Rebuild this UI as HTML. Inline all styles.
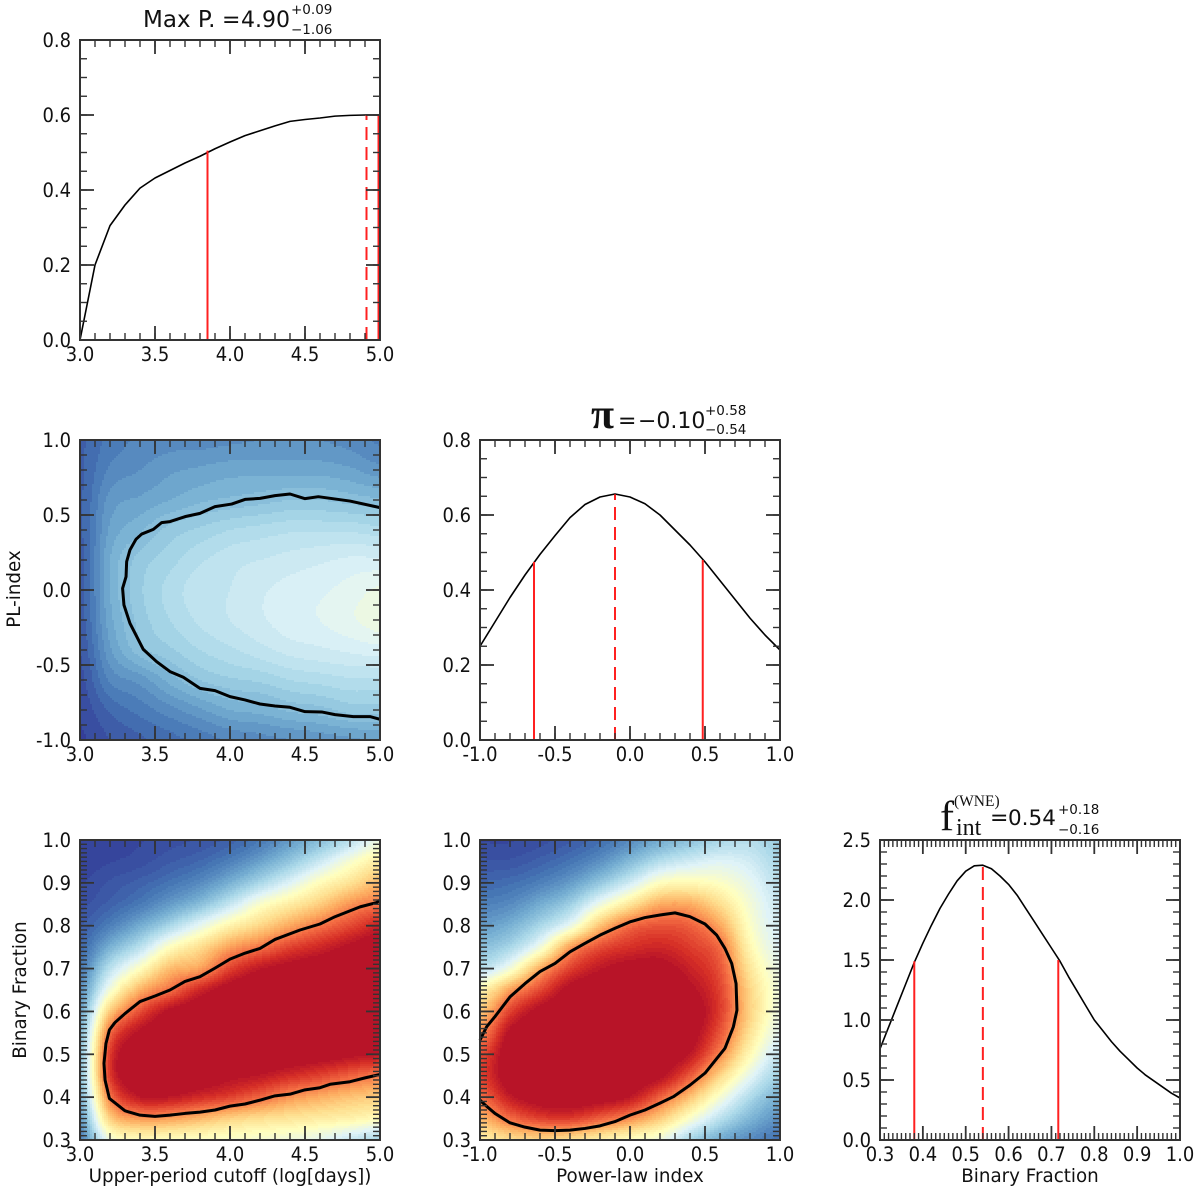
<!DOCTYPE html>
<html lang="en">
<head>
<meta charset="utf-8">
<title>Corner plot</title>
<style>
html,body{margin:0;padding:0;background:#fff;width:1200px;height:1200px;overflow:hidden}
svg{display:block}
.t{font-family:"DejaVu Sans","Liberation Sans",sans-serif;fill:#111}
.s{font-family:"Liberation Serif",serif;fill:#111}
</style>
</head>
<body>
<svg id="chart" xmlns="http://www.w3.org/2000/svg" width="1200" height="1200" viewBox="0 0 1200 1200">
  <rect x="0" y="0" width="1200" height="1200" fill="#fff"/>
  <g id="plots"></g>
  <g>
    <text class="t" x="143" y="27" font-size="23">Max P.</text>
    <text class="t" x="222" y="27" font-size="22">=</text>
    <text class="t" x="241" y="27" font-size="22">4.90</text>
    <text class="t" x="291" y="14" font-size="13.5">+0.09</text>
    <text class="t" x="291" y="34" font-size="13.5">−1.06</text>
  </g>
  <g>
    <text class="s" x="591" y="428" font-size="42" font-weight="bold">π</text>
    <text class="t" x="618" y="428" font-size="22">=</text>
    <text class="t" x="638" y="428" font-size="22">−0.10</text>
    <text class="t" x="705" y="415" font-size="13.5">+0.58</text>
    <text class="t" x="705" y="434" font-size="13.5">−0.54</text>
  </g>
  <g>
    <text class="s" x="940" y="830" font-size="42">f</text>
    <text class="s" x="954" y="806" font-size="15.5">(WNE)</text>
    <text class="s" x="956" y="835" font-size="24">int</text>
    <text class="t" x="990" y="825" font-size="22">=</text>
    <text class="t" x="1008" y="825" font-size="21.5">0.54</text>
    <text class="t" x="1058" y="814" font-size="13.5">+0.18</text>
    <text class="t" x="1058" y="834" font-size="13.5">−0.16</text>
  </g>
  <text class="t" transform="translate(20,589) rotate(-90)" text-anchor="middle" font-size="18.3">PL-index</text>
  <text class="t" transform="translate(26,990) rotate(-90)" text-anchor="middle" font-size="18.3">Binary Fraction</text>
  <text class="t" x="230" y="1182" text-anchor="middle" font-size="18.3">Upper-period cutoff (log[days])</text>
  <text class="t" x="630" y="1182" text-anchor="middle" font-size="18.3">Power-law index</text>
  <text class="t" x="1030" y="1182" text-anchor="middle" font-size="18.3">Binary Fraction</text>
</svg>
<script>
// ---- 1D posterior curves ----
const cutoffX = [3.0,3.1,3.2,3.3,3.4,3.5,3.6,3.7,3.8,3.9,4.0,4.1,4.2,4.3,4.4,4.5,4.6,4.7,4.8,4.9,5.0];
const cutoffY = [0,0.2,0.305,0.36,0.405,0.432,0.452,0.472,0.49,0.51,0.528,0.545,0.558,0.571,0.583,0.588,0.592,0.597,0.599,0.6,0.6];
const indexX = [-1,-0.9,-0.8,-0.7,-0.6,-0.5,-0.4,-0.3,-0.2,-0.1,0,0.1,0.2,0.3,0.4,0.5,0.6,0.7,0.8,0.9,1];
const indexY = [0.25,0.315,0.38,0.44,0.495,0.545,0.593,0.628,0.648,0.656,0.648,0.63,0.6,0.56,0.52,0.475,0.425,0.375,0.325,0.28,0.24];
const fractionX = [0.30,0.32,0.34,0.36,0.38,0.40,0.42,0.44,0.46,0.48,0.50,0.52,0.54,0.56,0.58,0.60,0.62,0.64,0.66,0.68,0.70,0.72,0.74,0.76,0.78,0.80,0.82,0.84,0.86,0.88,0.90,0.92,0.94,0.96,0.98,1.00];
const fractionY = [0.76,0.94,1.12,1.30,1.48,1.64,1.79,1.93,2.05,2.16,2.24,2.285,2.29,2.26,2.20,2.13,2.04,1.93,1.82,1.71,1.60,1.49,1.36,1.24,1.12,1.00,0.91,0.82,0.74,0.67,0.60,0.54,0.49,0.44,0.39,0.35];

// ---- credible interval markers: [x, height] ----
const cutoffLow = [3.85,0.505];
const cutoffMid = [4.91,0.6];
const cutoffHigh = [4.99,0.6];
const indexLow = [-0.64,0.475];
const indexMid = [-0.1,0.655];
const indexHigh = [0.485,0.48];
const fractionLow = [0.38,1.49];
const fractionMid = [0.54,2.29];
const fractionHigh = [0.716,1.5];

// ---- tick labels ----
const cutoffTicks = [3.0,3.5,4.0,4.5,5.0];
const cutoffTickLabels = ["3.0","3.5","4.0","4.5","5.0"];
const indexTicks = [-1,-0.5,0,0.5,1];
const indexTickLabels = ["-1.0","-0.5","0.0","0.5","1.0"];
const fractionTicks = [0.3,0.4,0.5,0.6,0.7,0.8,0.9,1.0];
const fractionTickLabels = ["0.3","0.4","0.5","0.6","0.7","0.8","0.9","1.0"];
const densityTicks = [0,0.2,0.4,0.6,0.8];
const densityTickLabels = ["0.0","0.2","0.4","0.6","0.8"];
const fractionDensityTicks = [0,0.5,1,1.5,2,2.5];
const fractionDensityTickLabels = ["0.0","0.5","1.0","1.5","2.0","2.5"];

// ---- heatmap grids: one inner array per x column, values run from top y to bottom y ----
const cutoffColumns = [3.0,3.2,3.4,3.6,3.8,4.0,4.2,4.4,4.6,4.8,5.0];
const indexColumns = [-1,-0.8,-0.6,-0.4,-0.2,0,0.2,0.4,0.6,0.8,1];
const fractionRows = [1,0.95,0.9,0.85,0.8,0.75,0.7,0.65,0.6,0.55,0.5,0.45,0.4,0.35,0.3];
const indexRows = [1,0.8,0.6,0.4,0.2,0,-0.2,-0.4,-0.6,-0.8,-1];

const heatCutoffIndex = [
 [.07,.07,.07,.07,.06,.06,.06,.05,.04,.03,.02],
 [.11,.13,.16,.18,.20,.20,.19,.17,.13,.08,.05],
 [.13,.15,.18,.22,.26,.27,.26,.24,.16,.11,.07],
 [.14,.17,.20,.26,.29,.31,.30,.27,.21,.14,.09],
 [.14,.18,.22,.28,.32,.34,.33,.30,.25,.17,.11],
 [.145,.19,.23,.30,.34,.35,.35,.32,.27,.20,.13],
 [.15,.19,.24,.31,.35,.37,.37,.34,.28,.21,.14],
 [.15,.19,.25,.32,.36,.385,.39,.36,.30,.23,.15],
 [.15,.19,.25,.32,.37,.395,.40,.37,.31,.24,.16],
 [.14,.18,.24,.32,.38,.41,.42,.38,.32,.26,.17],
 [.12,.16,.23,.31,.38,.43,.44,.39,.32,.26,.18]
];
const heatCutoffFraction = [
 [.02,.02,.03,.04,.06,.08,.11,.15,.19,.23,.25,.25,.22,.17,.12],
 [.02,.03,.05,.07,.12,.21,.33,.46,.64,.80,.88,.88,.78,.63,.45],
 [.03,.04,.07,.11,.20,.33,.50,.69,.85,.97,1,1,.95,.73,.51],
 [.04,.06,.10,.17,.30,.50,.67,.80,.97,1,1,1,.95,.72,.50],
 [.05,.08,.14,.24,.42,.60,.72,.92,1,1,1,1,.91,.68,.49],
 [.07,.12,.21,.35,.54,.72,.87,.99,1,1,1,.97,.87,.63,.48],
 [.11,.18,.30,.48,.62,.79,.95,1,1,1,1,.95,.81,.60,.47],
 [.17,.26,.40,.56,.71,.87,.98,1,1,1,1,.91,.74,.58,.45],
 [.24,.36,.51,.64,.79,.92,1,1,1,1,.99,.87,.70,.56,.42],
 [.33,.47,.59,.74,.86,.97,1,1,1,1,.97,.82,.66,.54,.36],
 [.44,.56,.68,.79,.93,1,1,1,1,1,.95,.78,.64,.51,.30]
];
const heatIndexFraction = [
 [.03,.05,.08,.12,.17,.24,.33,.53,.65,.75,.85,.87,.80,.68,.55],
 [.03,.05,.09,.14,.21,.30,.46,.72,.87,.97,1,1,.94,.80,.60],
 [.04,.07,.12,.20,.30,.45,.70,.86,.98,1,1,1,.99,.87,.62],
 [.06,.10,.17,.28,.43,.72,.87,.98,1,1,1,1,1,.88,.60],
 [.09,.15,.26,.44,.66,.85,.95,1,1,1,1,1,.99,.82,.55],
 [.14,.23,.37,.58,.80,.90,.98,1,1,1,1,1,.95,.75,.50],
 [.20,.32,.50,.70,.84,.92,.98,1,1,1,1,.97,.82,.64,.45],
 [.25,.37,.52,.70,.82,.88,.93,.97,1,.99,.95,.83,.66,.48,.30],
 [.30,.40,.49,.60,.71,.80,.84,.87,.88,.84,.76,.62,.47,.33,.20],
 [.32,.37,.42,.46,.49,.53,.58,.62,.63,.59,.52,.42,.31,.22,.14],
 [.27,.30,.33,.36,.38,.40,.43,.45,.44,.41,.35,.28,.21,.15,.10]
];

// ---- 68% contours ----
const contourCIX = [5,4.8,4.589,4.5,4.4,4.3,4.2,4.1,4.011,3.9,3.8,3.7,3.6,3.544,3.489,3.411,3.373,3.333,3.311,3.307,3.284,3.293,3.333,3.422,3.511,3.6,3.689,3.8,3.9,4,4.1,4.2,4.3,4.4,4.5,4.611,4.7,4.822,4.933,5];
const contourCIY = [.549,.593,.622,.609,.64,.629,.611,.604,.573,.556,.511,.489,.456,.449,.404,.373,.338,.267,.189,.089,.011,-.1,-.222,-.396,-.478,-.544,-.582,-.656,-.671,-.711,-.733,-.76,-.773,-.782,-.811,-.813,-.831,-.844,-.844,-.862];
const contourCFX = [5,4.978,4.867,4.7,4.6,4.467,4.3,4.2,4.1,4,3.9,3.8,3.7,3.6,3.5,3.4,3.3,3.233,3.196,3.173,3.16,3.167,3.196,3.3,3.4,3.5,3.6,3.7,3.8,3.9,4,4.1,4.2,4.3,4.4,4.5,4.6,4.667,4.8,4.9,5];
const contourCFY = [.86,.854,.844,.821,.804,.79,.768,.747,.736,.722,.701,.681,.67,.65,.636,.623,.595,.574,.557,.525,.479,.44,.397,.368,.358,.355,.358,.362,.365,.37,.379,.384,.393,.403,.407,.417,.422,.43,.436,.445,.453];
const contourIFX = [-1,-.956,-.9,-.8,-.7,-.6,-.5,-.4,-.3,-.2,-.1,0,.1,.2,.3,.4,.5,.578,.633,.678,.707,.713,.689,.633,.5,.4,.289,.2,.1,0,-.1,-.2,-.3,-.4,-.5,-.6,-.7,-.8,-.9,-.967,-1];
const contourIFY = [.533,.564,.588,.634,.665,.693,.712,.739,.759,.778,.794,.809,.819,.825,.83,.821,.804,.778,.747,.712,.665,.603,.564,.514,.456,.428,.401,.386,.37,.358,.343,.333,.327,.323,.322,.323,.33,.34,.362,.382,.393];

const colorStops = [[0,49,54,149],[.1,69,117,180],[.2,116,173,209],[.3,171,217,233],[.4,224,243,248],[.5,255,255,191],[.6,254,224,144],[.7,253,174,97],[.8,244,109,67],[.9,215,48,39],[.96,184,20,40],[1,184,20,40]];

const SVGNS = 'http://www.w3.org/2000/svg';
const plots = document.getElementById('plots');

function make(parent, tag, props) {
  const node = document.createElementNS(SVGNS, tag);
  for (const k in props) node.setAttribute(k, props[k]);
  parent.appendChild(node);
  return node;
}
function linearScale(d0, d1, r0, r1) {
  return v => r0 + (v - d0) / (d1 - d0) * (r1 - r0);
}
function colorOf(v) {
  for (let i = 1; i < colorStops.length; i++) {
    if (v <= colorStops[i][0]) {
      const a = colorStops[i - 1], b = colorStops[i], t = (v - a[0]) / (b[0] - a[0] || 1);
      return 'rgb(' + [1, 2, 3].map(c => Math.round(a[c] + (b[c] - a[c]) * t)).join(',') + ')';
    }
  }
  return 'rgb(184,20,40)';
}
function catmull(p0, p1, p2, p3, t) {
  return 0.5 * (2 * p1 + (p2 - p0) * t + (2 * p0 - 5 * p1 + 4 * p2 - p3) * t * t + (3 * p1 - p0 - 3 * p2 + p3) * t * t * t);
}
function locate(list, v) {
  let i = 0;
  const asc = list[1] > list[0];
  while (i < list.length - 2 && (asc ? list[i + 1] <= v : list[i + 1] >= v)) i++;
  return [i, (v - list[i]) / (list[i + 1] - list[i])];
}
function sampleGrid(grid, cols, rows, x, y) {
  const [ci, ct] = locate(cols, x);
  const [ri, rt] = locate(rows, y);
  const nc = cols.length, nr = rows.length;
  const vals = [];
  for (let c = ci - 1; c <= ci + 2; c++) {
    const col = grid[Math.max(0, Math.min(nc - 1, c))];
    const g = r => col[Math.max(0, Math.min(nr - 1, r))];
    vals.push(catmull(g(ri - 1), g(ri), g(ri + 1), g(ri + 2), rt));
  }
  return Math.max(0, Math.min(1, catmull(vals[0], vals[1], vals[2], vals[3], ct)));
}
function drawHeat(group, p, grid, cols, rows, levels) {
  const step = 2;
  for (let py = p.top; py < p.top + 300; py += step) {
    let runStart = p.left, runLevel = null;
    for (let px = p.left; px <= p.left + 300; px += step) {
      let lev = -1;
      if (px < p.left + 300) {
        const v = sampleGrid(grid, cols, rows, p.invX(px + 1), p.invY(py + 1));
        lev = Math.min(levels - 1, Math.floor(v * levels));
      }
      if (lev !== runLevel) {
        if (runLevel !== null) {
          const cell = make(group, 'rect', {x: runStart, y: py, width: px - runStart, height: step, fill: colorOf((runLevel + 0.5) / levels), 'shape-rendering': 'crispEdges'});
          
          
        }
        runStart = px;
        runLevel = lev;
      }
    }
  }
}
function drawLine(group, p, xs, ys, stroke, width, name) {
  const pts = xs.map((x, i) => p.sx(x).toFixed(2) + ',' + p.sy(ys[i]).toFixed(2)).join(' ');
  const line = make(group, 'polyline', {points: pts, fill: 'none', stroke: stroke, 'stroke-width': width, 'stroke-linejoin': 'round'});
  
  
}
function drawMarker(group, p, marker, dashed, name) {
  const m = make(group, 'line', {x1: p.sx(marker[0]), x2: p.sx(marker[0]), y1: p.sy(0), y2: p.sy(marker[1]), stroke: '#ff2020', 'stroke-width': 2});
  if (dashed) m.setAttribute('stroke-dasharray', '13 7');
  
  
}
function drawAxes(group, p, cfg) {
  const ticks = make(group, 'g', {stroke: '#333', fill: 'none'});
  
  
  const seg = (x1, y1, x2, y2, w) => {
    const t = make(ticks, 'line', {x1: x1, y1: y1, x2: x2, y2: y2, 'stroke-width': w});
    
    
  };
  const L = p.left, T = p.top, R = L + 300, B = T + 300;
  const nx = Math.round((cfg.xDomain[1] - cfg.xDomain[0]) / cfg.xMinor);
  for (let i = 1; i < nx; i++) {
    const x = p.sx(cfg.xDomain[0] + i * cfg.xMinor);
    seg(x, B, x, B - 7, 1.4);
    seg(x, T, x, T + 7, 1.4);
  }
  const ny = Math.round((cfg.yDomain[1] - cfg.yDomain[0]) / cfg.yMinor);
  for (let i = 1; i < ny; i++) {
    const y = p.sy(cfg.yDomain[0] + i * cfg.yMinor);
    seg(L, y, L + 7, y, 1.4);
    seg(R, y, R - 7, y, 1.4);
  }
  cfg.xTicks.forEach((v, i) => {
    const x = p.sx(v);
    seg(x, B, x, B - 14, 1.8);
    seg(x, T, x, T + 14, 1.8);
    const label = make(group, 'text', {transform: 'translate(' + x + ',' + (B + 21) + ') scale(0.92,1)', 'text-anchor': 'middle', 'font-size': 19.5, class: 't'});
    label.textContent = cfg.xLabels[i];
    
    
  });
  cfg.yTicks.forEach((v, i) => {
    const y = p.sy(v);
    seg(L, y, L + 14, y, 1.8);
    seg(R, y, R - 14, y, 1.8);
    const label = make(group, 'text', {transform: 'translate(' + (L - 9) + ',' + (y + 7) + ') scale(0.92,1)', 'text-anchor': 'end', 'font-size': 19.5, class: 't'});
    label.textContent = cfg.yLabels[i];
    
    
  });
  const frame = make(group, 'rect', {x: L, y: T, width: 300, height: 300, fill: 'none', stroke: '#333', 'stroke-width': 2});
  
  
}
function panel(left, top, cfg, name) {
  const g = make(plots, 'g', {});
  
  
  const p = {
    left: left, top: top, g: g,
    sx: linearScale(cfg.xDomain[0], cfg.xDomain[1], left, left + 300),
    sy: linearScale(cfg.yDomain[0], cfg.yDomain[1], top + 300, top),
    invX: linearScale(left, left + 300, cfg.xDomain[0], cfg.xDomain[1]),
    invY: linearScale(top + 300, top, cfg.yDomain[0], cfg.yDomain[1])
  };
  return p;
}

const cfgCutoff1D = {xDomain: [3, 5], yDomain: [0, 0.8], xMinor: 0.1, yMinor: 0.05, xTicks: cutoffTicks, xLabels: cutoffTickLabels, yTicks: densityTicks, yLabels: densityTickLabels};
const cfgIndex1D = {xDomain: [-1, 1], yDomain: [0, 0.8], xMinor: 0.1, yMinor: 0.05, xTicks: indexTicks, xLabels: indexTickLabels, yTicks: densityTicks, yLabels: densityTickLabels};
const cfgFraction1D = {xDomain: [0.3, 1], yDomain: [0, 2.5], xMinor: 0.01, yMinor: 0.1, xTicks: fractionTicks, xLabels: fractionTickLabels, yTicks: fractionDensityTicks, yLabels: fractionDensityTickLabels};
const cfgCutoffIndex = {xDomain: [3, 5], yDomain: [-1, 1], xMinor: 0.1, yMinor: 0.1, xTicks: cutoffTicks, xLabels: cutoffTickLabels, yTicks: indexTicks, yLabels: indexTickLabels};
const cfgCutoffFraction = {xDomain: [3, 5], yDomain: [0.3, 1], xMinor: 0.1, yMinor: 0.01, xTicks: cutoffTicks, xLabels: cutoffTickLabels, yTicks: fractionTicks, yLabels: fractionTickLabels};
const cfgIndexFraction = {xDomain: [-1, 1], yDomain: [0.3, 1], xMinor: 0.1, yMinor: 0.01, xTicks: indexTicks, xLabels: indexTickLabels, yTicks: fractionTicks, yLabels: fractionTickLabels};

// top-left: cutoff marginal
const p1 = panel(80, 40, cfgCutoff1D, 'panel-cutoff-marginal');
drawLine(p1.g, p1, cutoffX, cutoffY, '#000', 1.6, 'cutoff-posterior-curve');
drawMarker(p1.g, p1, cutoffLow, false, 'cutoff-lower-bound');
drawMarker(p1.g, p1, cutoffMid, true, 'cutoff-median');
drawMarker(p1.g, p1, cutoffHigh, false, 'cutoff-upper-bound');
drawAxes(p1.g, p1, cfgCutoff1D);

// middle-left: cutoff vs PL index
const p2 = panel(80, 440, cfgCutoffIndex, 'panel-cutoff-vs-index');
drawHeat(p2.g, p2, heatCutoffIndex, cutoffColumns, indexRows, 40);
drawLine(p2.g, p2, contourCIX, contourCIY, '#000', 3, 'cutoff-index-contour');
drawAxes(p2.g, p2, cfgCutoffIndex);

// middle: index marginal
const p3 = panel(480, 440, cfgIndex1D, 'panel-index-marginal');
drawLine(p3.g, p3, indexX, indexY, '#000', 1.6, 'index-posterior-curve');
drawMarker(p3.g, p3, indexLow, false, 'index-lower-bound');
drawMarker(p3.g, p3, indexMid, true, 'index-median');
drawMarker(p3.g, p3, indexHigh, false, 'index-upper-bound');
drawAxes(p3.g, p3, cfgIndex1D);

// bottom-left: cutoff vs fraction
const p4 = panel(80, 840, cfgCutoffFraction, 'panel-cutoff-vs-fraction');
drawHeat(p4.g, p4, heatCutoffFraction, cutoffColumns, fractionRows, 64);
drawLine(p4.g, p4, contourCFX, contourCFY, '#000', 3, 'cutoff-fraction-contour');
drawAxes(p4.g, p4, cfgCutoffFraction);

// bottom-middle: index vs fraction
const p5 = panel(480, 840, cfgIndexFraction, 'panel-index-vs-fraction');
drawHeat(p5.g, p5, heatIndexFraction, indexColumns, fractionRows, 64);
drawLine(p5.g, p5, contourIFX, contourIFY, '#000', 3, 'index-fraction-contour');
drawAxes(p5.g, p5, cfgIndexFraction);

// bottom-right: fraction marginal
const p6 = panel(880, 840, cfgFraction1D, 'panel-fraction-marginal');
drawLine(p6.g, p6, fractionX, fractionY, '#000', 1.6, 'fraction-posterior-curve');
drawMarker(p6.g, p6, fractionLow, false, 'fraction-lower-bound');
drawMarker(p6.g, p6, fractionMid, true, 'fraction-median');
drawMarker(p6.g, p6, fractionHigh, false, 'fraction-upper-bound');
drawAxes(p6.g, p6, cfgFraction1D);
</script>
</body>
</html>
